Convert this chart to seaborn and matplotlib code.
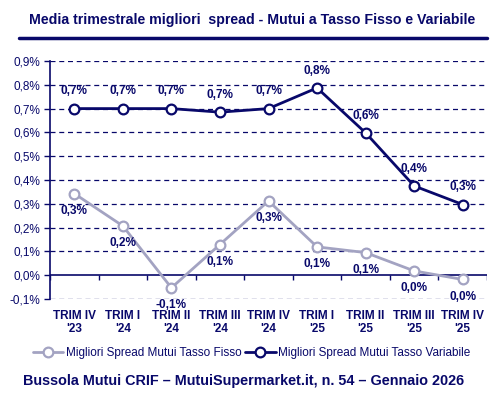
import numpy as np
import pandas as pd
import matplotlib
matplotlib.use("Agg")
import matplotlib.pyplot as plt
from matplotlib.lines import Line2D
import seaborn as sns

quarters = ["TRIM IV\n'23", "TRIM I\n'24", "TRIM II\n'24", "TRIM III\n'24", "TRIM IV\n'24",
            "TRIM I\n'25", "TRIM II\n'25", "TRIM III\n'25", "TRIM IV\n'25"]
fisso = [0.343, 0.207, -0.053, 0.129, 0.312, 0.119, 0.095, 0.018, -0.018]
variabile = [0.700, 0.700, 0.700, 0.685, 0.700, 0.787, 0.598, 0.375, 0.297]
name_fisso = "Migliori Spread Mutui Tasso Fisso"
name_var = "Migliori Spread Mutui Tasso Variabile"
yticks = [-0.1, 0.0, 0.1, 0.2, 0.3, 0.4, 0.5, 0.6, 0.7, 0.8, 0.9]

NAVY = "#08086a"
GREY = "#a3a3c2"

sns.set_style("white")
plt.rcParams["font.family"] = ["Liberation Sans", "DejaVu Sans"]

fig = plt.figure(figsize=(5.03, 3.94), dpi=100)
ax = fig.add_axes([0.0994, 0.2411, 0.8688, 0.6041])

x = np.arange(len(quarters))
df = pd.DataFrame({"x": np.concatenate([x, x]),
                   "v": fisso + variabile,
                   "s": [name_fisso] * len(x) + [name_var] * len(x)})

sns.lineplot(data=df[df.s == name_fisso], x="x", y="v", ax=ax, color=GREY, lw=2.0,
             marker="o", markersize=7, markerfacecolor="white", markeredgecolor=GREY,
             markeredgewidth=1.6, sort=False, label=name_fisso, zorder=3)
sns.lineplot(data=df[df.s == name_var], x="x", y="v", ax=ax, color=NAVY, lw=2.0,
             marker="o", markersize=7, markerfacecolor="white", markeredgecolor=NAVY,
             markeredgewidth=1.6, sort=False, label=name_var, zorder=4)

ax.set_xlim(-0.5, len(x) - 0.5)
ax.set_ylim(-0.1, 0.9)
ax.set_yticks(yticks)
ax.set_yticklabels([f"{t:.1f}%".replace(".", ",") for t in yticks], color=NAVY, fontsize=8.5)
ax.set_xticks(x)
ax.set_xticklabels(quarters, color=NAVY, fontsize=8.5, fontweight="bold", linespacing=1.1)
ax.tick_params(axis="x", length=0, pad=8)
ax.tick_params(axis="y", length=4, width=1, color=NAVY, direction="out", pad=3, left=True)
ax.set_xlabel("")
ax.set_ylabel("")

for t in yticks:
    if t != 0:
        ax.axhline(t, color=NAVY, lw=0.9, ls=(0, (4, 3)), zorder=1)
ax.axhline(0, color=NAVY, lw=1.2, zorder=2)
ax.vlines(np.arange(-0.5, len(x), 1.0), -0.021, 0, color=NAVY, lw=1.0, zorder=2)

for s in ["top", "right", "bottom"]:
    ax.spines[s].set_visible(False)
ax.spines["left"].set_color(NAVY)
ax.spines["left"].set_linewidth(1.2)

for i, v in enumerate(variabile):
    ax.annotate(f"{v:.1f}%".replace(".", ","), (i, v), xytext=(0, 8), textcoords="offset points",
                ha="center", va="bottom", fontsize=8.5, fontweight="bold", color=NAVY)
for i, v in enumerate(fisso):
    lab = f"{v:.1f}%".replace(".", ",")
    if lab == "-0,0%":
        lab = "0,0%"
    ax.annotate(lab, (i, v), xytext=(0, -8), textcoords="offset points",
                ha="center", va="top", fontsize=8.5, fontweight="bold", color=NAVY)

leg = ax.legend(loc="center", bbox_to_anchor=(0.5, 0.104), bbox_transform=fig.transFigure,
                ncol=2, frameon=False, fontsize=8.5, handlelength=2.6, columnspacing=0.3,
                handletextpad=0.2, borderaxespad=0)
for t in leg.get_texts():
    t.set_color(NAVY)

fig.text(0.502, 0.949, "Media trimestrale migliori  spread - Mutui a Tasso Fisso e Variabile",
         ha="center", va="center", fontsize=10.2, fontweight="bold", color=NAVY)
fig.add_artist(Line2D([0.038, 0.968], [0.904, 0.904], color=NAVY, lw=2.5))
fig.text(0.485, 0.033, "Bussola Mutui CRIF \u2013 MutuiSupermarket.it, n. 54 \u2013 Gennaio 2026",
         ha="center", va="center", fontsize=10.4, fontweight="bold", color=NAVY)

fig.savefig("out.png", dpi=100)
